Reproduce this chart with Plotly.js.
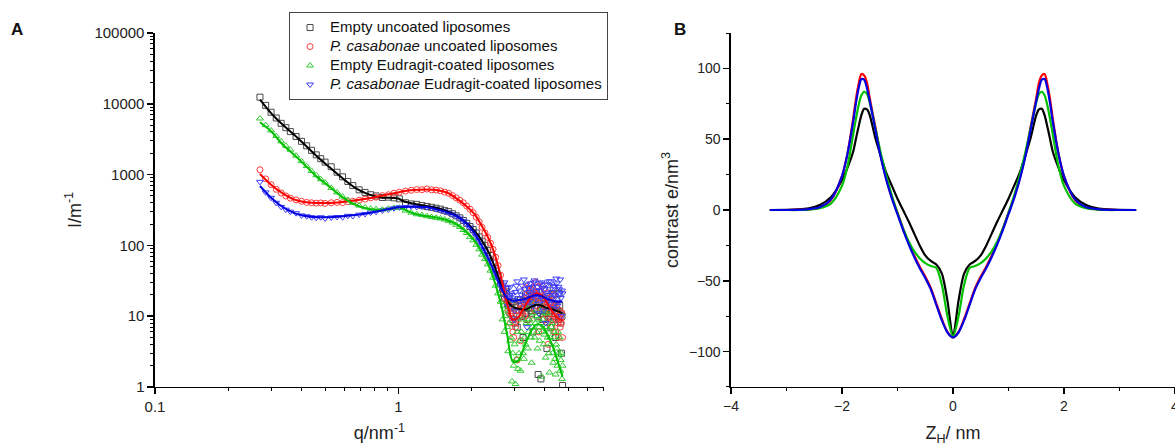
<!DOCTYPE html>
<html><head><meta charset="utf-8">
<script src="https://cdn.plot.ly/plotly-3.0.1.min.js"></script>
<style>html,body{margin:0;padding:0;background:#fff}#chart{width:1175px;height:446px}</style>
</head><body><div id="chart"></div>
<script>
// ---------- Panel A: SAXS intensity ----------
const qData = [0.27,0.285,0.30,0.315,0.33,0.345,0.36,0.38,0.40,0.42,0.44,0.46,0.48,0.50,0.53,0.56,0.59,0.62,0.65,0.69,0.73,0.77,0.81,0.86,0.91,0.96,1.01,1.07,1.13,1.19,1.25,1.31,1.37,1.43,1.49,1.55,1.61,1.67,1.73,1.79,1.85,1.91,1.97,2.03,2.09,2.15,2.21,2.27,2.33,2.39,2.45,2.51,2.57,2.63,
  2.68,2.705,2.73,2.755,2.78,2.805,2.83,2.855,2.88,2.905,2.93,2.955,2.98,3.005,3.03,3.055,3.08,3.105,3.13,3.155,3.18,3.205,3.23,3.255,3.28,3.305,3.33,3.355,3.38,3.405,3.43,3.455,3.48,3.505,3.53,3.555,3.58,3.605,3.63,3.655,3.68,3.705,3.73,3.755,3.78,3.805,3.83,3.855,3.88,3.905,3.93,3.955,3.98,4.005,4.03,4.055,4.08,4.105,4.13,4.155,4.18,4.205,4.23,4.255,4.28,4.305,4.33,4.355,4.38,4.405,4.43,4.455,4.48,4.505,4.53,4.555,4.58,4.605,4.63,4.655,4.68,4.705,4.73];
const emptyUncoated = [12400,9500,7600,6300,5300,4600,4050,3450,2950,2550,2200,1900,1680,1500,1290,1080,930,800,700,610,560,520,500,475,480,470,455,400,385,380,365,355,345,335,325,310,300,280,262,245,225,205,185,168,150,132,115,100,85,72,58,47,37,29,
  25,21,18,24,22,15,14,19,11,16,13,9,16,14,8,12,7,17,12,10,17,14,10,5,13,15,20,11,9,16,13,19,24,12,11,15,6,17,13,18,14,21,10,1.5,16,22,12,1.3,15,9,12,18,9,14,16,11,3.5,13,19,10,11,15,7,12,14,20,25,9,10,13,5,12,17,11,12,9,21,14,8,11,3,10,1.05];
const pcUncoated = [1170,870,720,620,550,500,465,440,420,405,400,395,398,392,400,405,402,415,420,435,450,470,480,505,520,545,565,585,600,615,612,625,610,605,590,565,545,505,470,435,400,360,325,290,250,215,180,150,130,108,88,68,52,38,
  26,24,22,17,16,19,12,14,8,11,10,6,5,8,7,12,2.4,9,12,15,4.5,13,11,16,18,10,25,14,20,17,9,22,28,16,17,25,23,19,12,21,30,18,19,26,6,22,22,13,15,27,9,17,24,11,13,21,18,8,4,12,11,16,16,9,7,13,20,6,10,15,6,9,14,11,8,5,10,12,7,9,8,11,5];
const emptyCoated = [6200,5000,4200,3500,2950,2550,2250,1850,1550,1320,1130,980,860,770,650,560,490,440,400,365,345,330,325,320,330,338,340,310,290,275,268,258,252,245,240,232,222,210,196,182,165,150,132,118,102,88,74,64,54,44,35,27,21,16,
  9,14,6,10,12,7,3.2,8,4.5,5,1.2,3,2.0,4,1.1,2.5,6,1.8,3,4.5,1.7,6,9,3,2.5,5,4,8,13,3.5,6,9,8,5,2.2,7,15,11,5,8,10,6,3.5,9,7,4.5,12,8,1.4,6,9,4,5.5,11,2.6,7,11,5,6.5,3,1.6,5,4,7,8,3,2.2,6,5,2.5,1.5,4,3.5,2,6,3,2.8,5,1.7,2.4,3,1.3,2];
const pcCoated = [790,560,470,400,350,320,300,285,265,258,250,245,250,240,248,252,250,262,260,272,278,290,298,312,322,335,345,348,355,350,352,345,338,325,312,300,288,272,258,240,220,198,178,155,135,115,97,82,68,58,47,40,33,27,
  24,28,30,22,18,25,14,19,26,21,20,17,9,12,22,27,31,18,16,23,12,20,27,15,33,24,19,28,7,16,25,22,29,17,21,26,14,30,32,20,18,23,26,15,11,29,23,19,30,25,17,12,24,28,8,21,28,16,20,31,15,24,31,18,22,13,12,27,26,20,19,34,29,14,16,26,24,21,33,18,10,23,21];

const qFit = [0.27,0.30,0.33,0.37,0.41,0.46,0.52,0.58,0.66,0.75,0.85,0.95,1.0,1.05,1.15,1.3,1.45,1.6,1.75,1.9,2.05,2.2,2.35,2.5,2.65,2.8,2.95,3.1,3.3,3.5,3.7,3.9,4.1,4.3,4.5,4.73];
const emptyUncoatedFit = [11500,7400,5300,3750,2700,1850,1280,930,660,530,475,468,460,420,390,360,335,300,258,208,162,118,80,48,27,16.5,13.6,12.8,12.3,13.5,14.5,14,13,12.5,11.8,11];
const pcUncoatedFit = [1020,720,560,450,410,398,398,408,430,460,500,540,560,580,605,617,600,550,450,360,280,190,125,72,34,15,9,9.5,13.5,18.5,21,19.5,15,11.5,9.5,8.8];
const emptyCoatedFit = [5500,4100,2800,1950,1400,950,680,500,380,330,320,335,345,325,285,260,245,225,195,155,118,80,52,29,14,5.5,2.3,2.3,3.8,6.0,7.6,7.3,5.5,3.8,2.4,1.4];
const pcCoatedFit = [690,470,360,290,262,250,250,256,268,285,310,335,345,350,352,348,320,290,255,205,150,100,64,40,25,18,16.5,16.8,17.5,19,20,19,17.5,16.5,16,16];

const seriesNames = ['Empty uncoated liposomes','<i>P. casabonae</i> uncoated liposomes','Empty Eudragit-coated liposomes','<i>P. casabonae</i> Eudragit-coated liposomes'];

// tick labels
const qTickVals = [0.1,1];
const qTickText = ['0.1','1'];
const qMinor = [0.2,0.3,0.4,0.5,0.6,0.7,0.8,0.9,2,3,4,5,6,7];
const iTickVals = [1,10,100,1000,10000,100000];
const iTickText = ['1','10','100','1000','10000','100000'];
const iMinor = [2,3,4,5,6,7,8,9,20,30,40,50,60,70,80,90,200,300,400,500,600,700,800,900,2000,3000,4000,5000,6000,7000,8000,9000,20000,30000,40000,50000,60000,70000,80000,90000];

// ---------- Panel B: electron density profiles ----------
const zH = [-3.3,-3.0,-2.8,-2.6,-2.4,-2.2,-2.0,-1.9,-1.8,-1.75,-1.7,-1.65,-1.6,-1.55,-1.5,-1.4,-1.3,-1.2,-1.1,-1.0,-0.9,-0.8,-0.7,-0.6,-0.5,-0.4,-0.3,-0.2,-0.1,0,0.1,0.2,0.3,0.4,0.5,0.6,0.7,0.8,0.9,1.0,1.1,1.2,1.3,1.4,1.5,1.55,1.6,1.65,1.7,1.75,1.8,1.9,2.0,2.2,2.4,2.6,2.8,3.0,3.3];
const rhoEmptyUncoated = [0,0.1,0.4,1.2,3.5,9,21,30,41,50,59,67,71.5,71,67,51,38,26,17,8,0,-8,-16.5,-25,-32,-36,-38.5,-45,-64,-89.5,-64,-45,-38.5,-36,-32,-25,-16.5,-8,0,8,17,26,38,51,67,71,71.5,67,59,50,41,30,21,9,3.5,1.2,0.4,0.1,0];
const rhoPcUncoated = [0,0,0.1,0.5,1.6,7,24,40,64,78,89,96,95,90,79,59,38,22,9,-2,-13,-23,-32,-40,-47,-55,-66,-77,-86,-90,-86,-77,-66,-55,-47,-40,-32,-23,-13,-2,9,22,38,59,79,90,95,96,89,78,64,40,24,7,1.6,0.5,0.1,0,0];
const rhoEmptyCoated = [0,0,0,0.3,1.2,4.5,17,31,53,64,74,81,83.5,82,76,58,40,24,10,-2,-13,-22,-29,-34,-37.5,-39.5,-41,-53,-75,-89.5,-75,-53,-41,-39.5,-37.5,-34,-29,-22,-13,-2,10,24,40,58,76,82,83.5,81,74,64,53,31,17,4.5,1.2,0.3,0,0,0];
const rhoPcCoated = [0,0,0.1,0.6,1.9,7.5,24,40,62,75,86,92.5,92,86,77,57,37,21,8,-3,-14,-24,-33,-41,-48,-56,-67,-78,-86.5,-90,-86.5,-78,-67,-56,-48,-41,-33,-24,-14,-3,8,21,37,57,77,86,92,92.5,86,75,62,40,24,7.5,1.9,0.6,0.1,0,0];

const markerColors = ['#4a4a4a','#ff3a3a','#2fcb2f','#3c3cff'];
const lineColors = ['#000000','#ff0000','#00c000','#0000e0'];
const symbols = ['square-open','circle-open','triangle-up-open','triangle-down-open'];
const dataSets = [emptyUncoated,pcUncoated,emptyCoated,pcCoated];
const fitSets = [emptyUncoatedFit,pcUncoatedFit,emptyCoatedFit,pcCoatedFit];
const rhoSets = [rhoEmptyUncoated,rhoPcUncoated,rhoEmptyCoated,rhoPcCoated];

const traces = [];
dataSets.forEach((ys,i)=>{
  traces.push({type:'scatter',mode:'markers',x:qData,y:ys,
    name:'<span style="font-size:15px">'+seriesNames[i]+'</span>',xaxis:'x',yaxis:'y',
    marker:{symbol:symbols[i],size:6,color:markerColors[i],line:{width:1,color:markerColors[i]}},showlegend:true});
});
fitSets.forEach((ys,i)=>{
  traces.push({type:'scatter',mode:'lines',x:qFit,y:ys,xaxis:'x',yaxis:'y',showlegend:false,hoverinfo:'skip',
    line:{color:lineColors[i],width:2,shape:'spline',smoothing:0.8}});
});
rhoSets.forEach((ys,i)=>{
  traces.push({type:'scatter',mode:'lines',x:zH,y:ys,xaxis:'x2',yaxis:'y2',showlegend:false,
    line:{color:lineColors[i],width:2.2,shape:'spline',smoothing:0.8}});
});

const axCommon = {showline:true,linecolor:'#000',linewidth:1.5,ticks:'outside',ticklen:6,tickwidth:1.5,tickcolor:'#000',
  showgrid:false,zeroline:false,automargin:false,ticklabeloverflow:'allow',tickfont:{size:14,color:'#222'}};
const FONT = 'Liberation Sans, Arial, sans-serif';

const layout = {
  width:1175,height:446,margin:{l:0,r:0,t:0,b:0},paper_bgcolor:'#fff',plot_bgcolor:'rgba(0,0,0,0)',
  font:{family:FONT,color:'#222'},
  xaxis:Object.assign({},axCommon,{domain:[0.1319,0.514],type:'log',range:[-1,0.845],anchor:'y',
    tickmode:'array',tickvals:qTickVals,ticktext:qTickText,tickfont:{size:15,color:'#222'},
    minor:{tickmode:'array',tickvals:qMinor,ticks:'outside',ticklen:3,tickwidth:1,tickcolor:'#000',showgrid:false},
    title:{text:'q/nm<sup>-1</sup>',font:{size:18,color:'#222'},standoff:12}}),
  yaxis:Object.assign({},axCommon,{domain:[0.1323,0.926],type:'log',range:[0,5],anchor:'x',
    tickmode:'array',tickvals:iTickVals,ticktext:iTickText,tickfont:{size:15,color:'#222'},
    minor:{tickmode:'array',tickvals:iMinor,ticks:'outside',ticklen:3,tickwidth:1,tickcolor:'#000',showgrid:false},
    title:{text:'I/m<sup>-1</sup>',font:{size:18,color:'#222'},standoff:8}}),
  xaxis2:Object.assign({},axCommon,{domain:[0.6221,1],range:[-4,4],anchor:'y2',tickmode:'linear',tick0:0,dtick:2,
    minor:{dtick:1,tick0:0,ticks:'outside',ticklen:3,tickwidth:1,tickcolor:'#000',showgrid:false},
    title:{text:'Z<sub>H</sub>/ nm',font:{size:18,color:'#222'},standoff:14}}),
  yaxis2:Object.assign({},axCommon,{domain:[0.1323,0.926],range:[-125,125],anchor:'x2',tickmode:'linear',tick0:0,dtick:50,
    minor:{dtick:25,tick0:0,ticks:'outside',ticklen:3,tickwidth:1,tickcolor:'#000',showgrid:false},
    title:{text:'contrast e/nm<sup>3</sup>',font:{size:18,color:'#222'},standoff:6}}),
  legend:{x:0.246,y:0.973,xanchor:'left',yanchor:'top',bgcolor:'#fff',bordercolor:'#444',borderwidth:1,
    font:{size:12,color:'#111',family:FONT},itemsizing:'trace',tracegroupgap:0},
  annotations:[
    {text:'<b>A</b>',x:0.0145,y:0.933,xref:'paper',yref:'paper',xanchor:'center',yanchor:'middle',showarrow:false,font:{size:17,color:'#111'}},
    {text:'<b>B</b>',x:0.579,y:0.933,xref:'paper',yref:'paper',xanchor:'center',yanchor:'middle',showarrow:false,font:{size:17,color:'#111'}}
  ],
  showlegend:true
};
Plotly.newPlot('chart',traces,layout,{displayModeBar:false,staticPlot:true});
</script></body></html>
